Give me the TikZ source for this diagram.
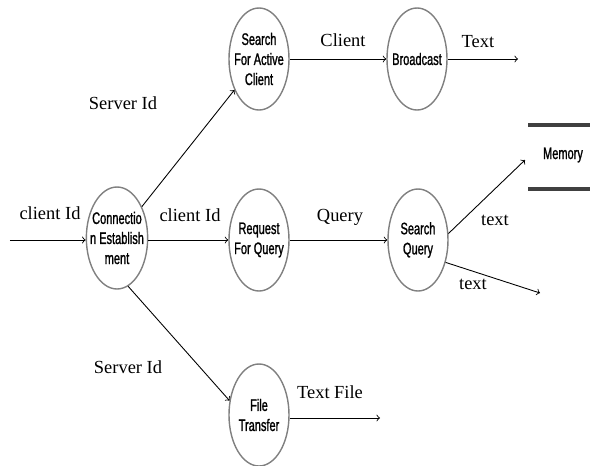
\documentclass[tikz,border=0pt]{standalone}
\usepackage{fontspec}
\setmainfont{Liberation Serif}
\newfontfamily\narrowsf[FakeStretch=0.66,FakeBold=1.2]{Liberation Sans}
\usetikzlibrary{shapes.geometric}
\tikzset{
  proc/.style={ellipse, draw=gray, line width=0.8pt, minimum width=1.2cm,
    minimum height=2.04cm, inner xsep=-3pt, inner ysep=0pt, align=center,
    font=\narrowsf\fontsize{9.5}{11.4}\selectfont},
  flow/.style={->, line width=0.5pt},
  lbl/.style={font=\fontsize{10.5}{12}\selectfont},
  store/.style={line width=1.8pt, draw=black!75}
}
\begin{document}
\begin{tikzpicture}
\useasboundingbox (0, 0) rectangle (11.8, -9.32);

\node[proc] (conn)    at (2.34, -4.76) {Connectio\\n Establish\\ment};
\node[proc] (active)  at (5.18, -1.18) {Search\\For Active\\Client};
\node[proc] (bcast)   at (8.34, -1.18) {Broadcast};
\node[proc] (request) at (5.18, -4.80) {Request\\For Query};
\node[proc] (squery)  at (8.36, -4.80) {Search\\Query};
\node[proc] (ftrans)  at (5.18, -8.30) {File\\Transfer};

\coordinate (in)     at ( 0.20, -4.80);
\coordinate (bout)   at (10.36, -1.18);
\coordinate (memin)  at (10.50, -3.20);
\coordinate (qout)   at (10.80, -5.86);
\coordinate (fout)   at ( 7.60, -8.36);

\draw[flow] (in) -- (conn.west |- in);
\draw[flow] (conn) -- (active);
\draw[flow] (conn.east |- request) -- (request.west);
\draw[flow] (conn.-77) -- (ftrans.154);
\draw[flow] (active) -- (bcast);
\draw[flow] (bcast.east) -- (bout);
\draw[flow] (request) -- (squery);
\draw[flow] (squery.12) -- (memin);
\draw[flow] (squery.-39) -- (qout);
\draw[flow] (ftrans.east |- fout) -- (fout);

\draw[store] (10.56, -2.50) -- (11.80, -2.50);
\draw[store] (10.56, -3.78) -- (11.80, -3.78);
\node[font=\narrowsf\fontsize{9.5}{11.4}\selectfont] (memory) at (11.26, -3.10) {Memory};

\node[lbl] (l1)  at (1.00, -4.26) {client Id};
\node[lbl] (l2)  at (3.80, -4.30) {client Id};
\node[lbl] (l3)  at (2.46, -2.06) {Server Id};
\node[lbl] (l4)  at (2.56, -7.34) {Server Id};
\node[lbl] (l5)  at (6.86, -0.80) {Client};
\node[lbl] (l6)  at (9.56, -0.84) {Text};
\node[lbl] (l7)  at (6.80, -4.34) {Query};
\node[lbl] (l8)  at (9.90, -4.40) {text};
\node[lbl] (l9)  at (9.46, -5.68) {text};
\node[lbl] (l10) at (6.60, -7.84) {Text File};
\end{tikzpicture}
\end{document}
